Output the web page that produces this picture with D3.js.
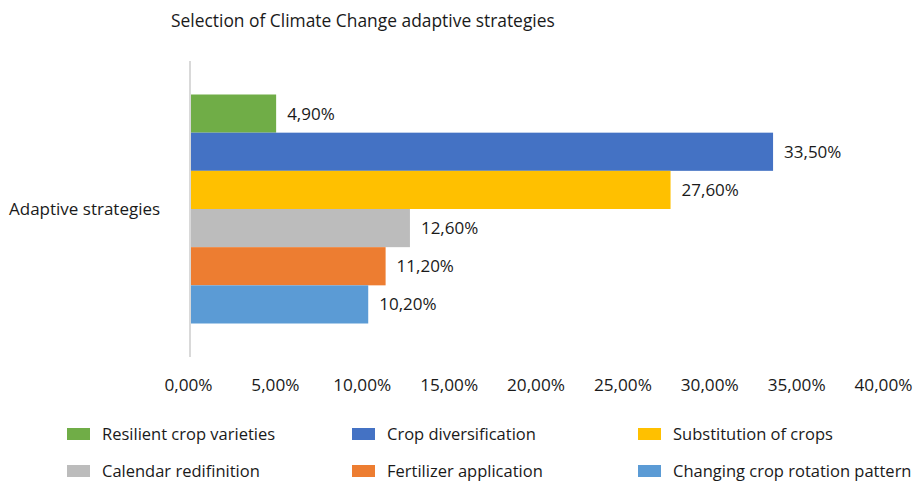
<!DOCTYPE html>
<html>
<head>
<meta charset="utf-8">
<script src="https://cdn.jsdelivr.net/npm/d3@7"></script>
<style>
  html, body { margin: 0; padding: 0; background: #fff; }
  svg text { font-family: "Open Sans", "Noto Sans", sans-serif; fill: #1a1a1a; }
</style>
</head>
<body>
<svg id="chart" width="917" height="482"></svg>
<script>
// Chart data
const chartTitle = "Selection of Climate Change adaptive strategies";
const categories = ["Adaptive strategies"];
const seriesNames = [
  "Resilient crop varieties",
  "Crop diversification",
  "Substitution of crops",
  "Calendar redifinition",
  "Fertilizer application",
  "Changing crop rotation pattern"
];
const seriesValues = [4.9, 33.5, 27.6, 12.6, 11.2, 10.2];
const seriesColors = ["#70ad47", "#4472c4", "#ffc000", "#bcbcbc", "#ed7d31", "#5b9bd5"];
const xTicks = [0, 5, 10, 15, 20, 25, 30, 35, 40];

const fmt = v => v.toFixed(2).replace(".", ",") + "%";

const svg = d3.select("#chart");

// Title
svg.append("text")
  .attr("x", 171).attr("y", 27)
  .attr("font-size", 17.4)
  .text(chartTitle);

// Scales
const x = d3.scaleLinear().domain([0, 40]).range([190, 885]);
const yCat = d3.scaleBand().domain(categories).range([61, 357]);
const ySer = d3.scaleBand()
  .domain(seriesNames)
  .range([yCat(categories[0]) + 33.5, yCat(categories[0]) + yCat.bandwidth() - 33.5])
  .padding(0);

// Bars
svg.append("g").selectAll("rect")
  .data(seriesNames.map((n, i) => ({ name: n, value: seriesValues[i], color: seriesColors[i] })))
  .join("rect")
  .attr("x", x(0) + 1)
  .attr("y", d => ySer(d.name))
  .attr("width", d => x(d.value) - x(0))
  .attr("height", ySer.bandwidth())
  .attr("fill", d => d.color);

// Value labels
svg.append("g").selectAll("text")
  .data(seriesNames.map((n, i) => ({ name: n, value: seriesValues[i] })))
  .join("text")
  .attr("x", d => x(d.value) + 12)
  .attr("y", d => ySer(d.name) + ySer.bandwidth() / 2)
  .attr("dy", "0.35em")
  .attr("font-size", 17)
  .text(d => fmt(d.value));

// Vertical category axis line
svg.append("line")
  .attr("x1", x(0)).attr("x2", x(0))
  .attr("y1", yCat.range()[0]).attr("y2", yCat.range()[1])
  .attr("stroke", "#d9d9d9").attr("stroke-width", 2);

// Category label
svg.append("text")
  .attr("x", 9)
  .attr("y", yCat(categories[0]) + yCat.bandwidth() / 2)
  .attr("dy", "0.35em")
  .attr("font-size", 17)
  .text(categories[0]);

// X axis tick labels
const xAxis = d3.axisBottom(x).tickValues(xTicks).tickFormat(fmt).tickSize(0).tickPadding(0);
const gx = svg.append("g").attr("transform", "translate(-2,379)").call(xAxis);
gx.select(".domain").remove();
gx.selectAll("text")
  .attr("font-size", 17.2)
  .attr("font-family", "Open Sans, Noto Sans, sans-serif")
  .attr("fill", "#1a1a1a")
  .attr("dy", "0.71em");

// Legend
const legendCols = [67, 352, 638];
const legendRows = [434, 471];
const legend = svg.append("g").selectAll("g")
  .data(seriesNames.map((n, i) => ({ name: n, color: seriesColors[i], i })))
  .join("g")
  .attr("transform", d => `translate(${legendCols[d.i % 3]},${legendRows[Math.floor(d.i / 3)]})`);
legend.append("rect")
  .attr("x", 0).attr("y", -6)
  .attr("width", 23).attr("height", 12)
  .attr("fill", d => d.color);
legend.append("text")
  .attr("x", 35).attr("y", 0)
  .attr("dy", "0.35em")
  .attr("font-size", 16.5)
  .text(d => d.name);
</script>
</body>
</html>
